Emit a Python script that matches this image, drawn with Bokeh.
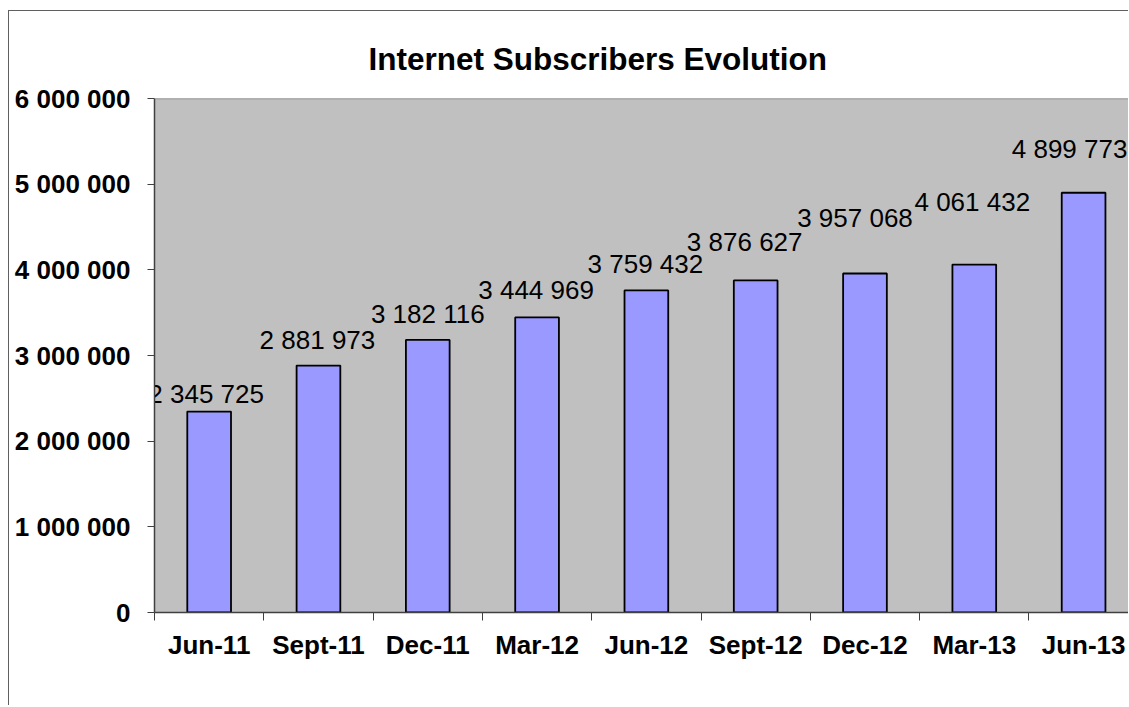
from bokeh.plotting import figure
from bokeh.models import Range1d, FixedTicker, ColumnDataSource, Span
from bokeh.embed import file_html
from bokeh.resources import INLINE
from bokeh.core.properties import value

categories = ["Jun-11", "Sept-11", "Dec-11", "Mar-12", "Jun-12", "Sept-12", "Dec-12", "Mar-13", "Jun-13"]
subscribers = [2345725, 2881973, 3182116, 3444969, 3759432, 3876627, 3957068, 4061432, 4899773]
y_ticks = [0, 1000000, 2000000, 3000000, 4000000, 5000000, 6000000]

# label placement offsets in pixels (style only)
label_dx = [-3, -1, 0, -1, -1, -11, -10, -2, -14]
label_dy = [-18, -26, -26, -27, -26, -38, -56, -63, -44]


def fmt(v):
    return f"{v:,}".replace(",", " ")


FONT = "Liberation Sans"

xs = [i + 0.5 for i in range(len(categories))]
src = ColumnDataSource(dict(x=xs, y=subscribers, label=[fmt(v) for v in subscribers],
                            dx=label_dx, dy=label_dy))

p = figure(width=1120, height=695, output_backend="svg", toolbar_location=None,
           x_range=Range1d(0, 8.92), y_range=Range1d(0, 6000000),
           min_border_left=145, min_border_right=0, min_border_top=87, min_border_bottom=94,
           background_fill_color="#C0C0C0", border_fill_color="white",
           outline_line_color=None)
p.styles = {"margin-left": "8px", "margin-top": "10px",
            "border-top": "1px solid #606060", "border-left": "1px solid #606060"}
p.grid.visible = False

p.vbar(x="x", top="y", width=0.4, bottom=0, source=src,
       fill_color="#9999FF", line_color="black", line_width=1.8)
p.text(x="x", y="y", text="label", x_offset="dx", y_offset="dy", source=src,
       text_align="center", text_baseline="middle", text_font=value(FONT),
       text_font_size="26px", text_color="black")

p.add_layout(Span(location=6000000, dimension="width", line_color="#808080", line_width=1.5))

# y axis
ya = p.yaxis[0]
ya.ticker = FixedTicker(ticks=y_ticks, minor_ticks=[])
ya.major_label_overrides = {t: fmt(t) for t in y_ticks}
ya.major_label_text_font = FONT
ya.major_label_text_font_style = "bold"
ya.major_label_text_font_size = "26px"
ya.major_label_text_color = "black"
ya.major_tick_out = 7
ya.major_tick_in = 0
ya.major_tick_line_color = "#404040"
ya.axis_line_color = "#404040"
ya.axis_line_width = 1.5
ya.major_label_standoff = 17

# x axis
xa = p.xaxis[0]
xa.ticker = FixedTicker(ticks=xs, minor_ticks=list(range(len(categories) + 1)))
xa.major_label_overrides = {x: c for x, c in zip(xs, categories)}
xa.major_label_text_font = FONT
xa.major_label_text_font_style = "bold"
xa.major_label_text_font_size = "26px"
xa.major_label_text_color = "black"
xa.major_tick_out = 0
xa.major_tick_in = 0
xa.minor_tick_out = 8
xa.minor_tick_in = 0
xa.minor_tick_line_color = "#404040"
xa.axis_line_color = "#404040"
xa.axis_line_width = 1.5
xa.major_label_standoff = 9

p.title.text = "Internet Subscribers Evolution"
p.title.text_font = FONT
p.title.text_font_style = "bold"
p.title.text_font_size = "31.5px"
p.title.text_color = "black"
p.title.align = "left"
p.title.offset = 214
p.title.standoff = 44

open("out.html", "w").write(file_html(p, INLINE))
